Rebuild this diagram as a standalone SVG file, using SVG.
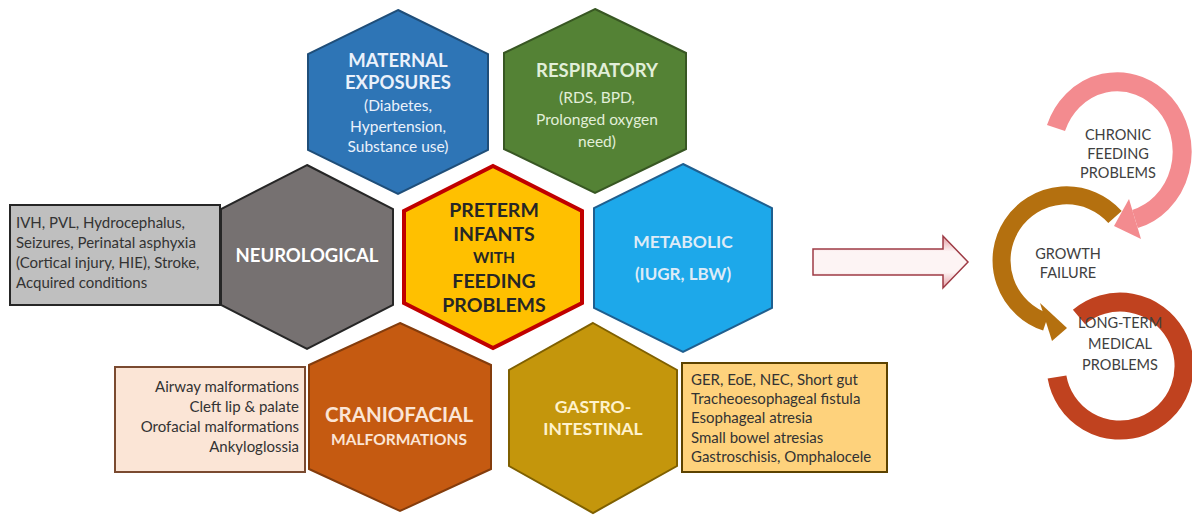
<svg xmlns="http://www.w3.org/2000/svg" width="1192" height="517" viewBox="0 0 1192 517">
<defs>
<style>
.t{font-family:Lato,"Open Sans","Liberation Sans",sans-serif;text-anchor:middle}
.b{font-weight:bold}
.box{font-family:Lato,"Open Sans","Liberation Sans",sans-serif;font-size:15px;fill:#333}
.cyc{font-family:Lato,"Open Sans","Liberation Sans",sans-serif;font-size:14.5px;fill:#404040;text-anchor:middle}
.hex{stroke-width:2;stroke-linejoin:miter}
</style>
<linearGradient id="arrowGrad" x1="0" y1="0" x2="0" y2="1">
<stop offset="0" stop-color="#e39ca2"/>
<stop offset="0.3" stop-color="#fdf4f4"/>
<stop offset="0.7" stop-color="#fdf4f4"/>
<stop offset="1" stop-color="#e39ca2"/>
</linearGradient>
</defs>
<rect width="1192" height="517" fill="#ffffff"/>

<g id="maternal">
<polygon class="hex" points="398,10 488,54 488,150 398,194 308,150 308,54" fill="#2e75b6" stroke="#1f4e79"/>
<text class="t b" x="398" y="67" font-size="18.5" fill="#eaf1fb">MATERNAL</text>
<text class="t b" x="398" y="89" font-size="18.5" fill="#eaf1fb">EXPOSURES</text>
<text class="t" x="398" y="111" font-size="15.5" fill="#eaf1fb">(Diabetes,</text>
<text class="t" x="398" y="132" font-size="15.5" fill="#eaf1fb">Hypertension,</text>
<text class="t" x="398" y="152" font-size="15.5" fill="#eaf1fb">Substance use)</text>
</g>

<g id="respiratory">
<polygon class="hex" points="595,9 686,53 686,149 595,193 504,149 504,53" fill="#548235" stroke="#385723"/>
<text class="t b" x="597" y="77" font-size="18.5" fill="#e2efd9">RESPIRATORY</text>
<text class="t" x="597" y="103" font-size="15.5" fill="#e2efd9">(RDS, BPD,</text>
<text class="t" x="597" y="125" font-size="15.5" fill="#e2efd9">Prolonged oxygen</text>
<text class="t" x="597" y="147" font-size="15.5" fill="#e2efd9">need)</text>
</g>

<g id="neurological">
<rect x="10" y="205" width="210" height="100" fill="#bfbfbf" stroke="#262626" stroke-width="2"/>
<text class="box" x="16" y="228" font-size="15.5">IVH, PVL, Hydrocephalus,</text>
<text class="box" x="16" y="248" font-size="15.5">Seizures, Perinatal asphyxia</text>
<text class="box" x="16" y="268" font-size="15.5">(Cortical injury, HIE), Stroke,</text>
<text class="box" x="16" y="288" font-size="15.5">Acquired conditions</text>
<polygon class="hex" points="307,165 393,209 393,305 307,349 221,305 221,209" fill="#767171" stroke="#262626"/>
<text class="t b" x="307" y="262" font-size="18.5" fill="#ffffff">NEUROLOGICAL</text>
</g>

<g id="center">
<polygon points="493,166 582,211 582,303 493,348 404,303 404,211" fill="#ffc000" stroke="#c00000" stroke-width="4" stroke-linejoin="miter"/>
<text class="t b" x="494" y="217" font-size="19.5" fill="#262626">PRETERM</text>
<text class="t b" x="494" y="241" font-size="19.5" fill="#262626">INFANTS</text>
<text class="t b" x="494" y="263" font-size="15.5" fill="#262626">WITH</text>
<text class="t b" x="494" y="288" font-size="19.5" fill="#262626">FEEDING</text>
<text class="t b" x="494" y="312" font-size="19.5" fill="#262626">PROBLEMS</text>
</g>

<g id="metabolic">
<polygon class="hex" points="683,164 772,208 772,308 683,352 594,308 594,208" fill="#1da8ea" stroke="#1f5f8f"/>
<text class="t b" x="683" y="248" font-size="17.5" fill="#deebf7">METABOLIC</text>
<text class="t b" x="683" y="280" font-size="17" fill="#deebf7">(IUGR, LBW)</text>
</g>

<g id="craniofacial">
<rect x="115" y="367" width="190" height="105" fill="#fbe5d6" stroke="#7a4a30" stroke-width="2"/>
<text class="box" x="299" y="392" text-anchor="end" font-size="16">Airway malformations</text>
<text class="box" x="299" y="412" text-anchor="end" font-size="16">Cleft lip &amp; palate</text>
<text class="box" x="299" y="432" text-anchor="end" font-size="16">Orofacial malformations</text>
<text class="box" x="299" y="452" text-anchor="end" font-size="16">Ankyloglossia</text>
<polygon class="hex" points="400,323 491,365 491,469 400,511 309,469 309,365" fill="#c55a11" stroke="#843c0c"/>
<text class="t b" x="399" y="422" font-size="20.5" fill="#fbe5d6">CRANIOFACIAL</text>
<text class="t b" x="399" y="445" font-size="15.5" fill="#fbe5d6">MALFORMATIONS</text>
</g>

<g id="gastrointestinal">
<polygon class="hex" points="593,323 677,370 677,466 593,513 509,466 509,370" fill="#c4960c" stroke="#7f6000"/>
<text class="t b" x="593" y="413" font-size="17.5" fill="#fff2cc">GASTRO-</text>
<text class="t b" x="593" y="435" font-size="17.5" fill="#fff2cc">INTESTINAL</text>
<rect x="682" y="363" width="205" height="109" fill="#fed27c" stroke="#5c4200" stroke-width="2"/>
<text class="box" x="691" y="385">GER, EoE, NEC, Short gut</text>
<text class="box" x="691" y="404">Tracheoesophageal fistula</text>
<text class="box" x="691" y="423">Esophageal atresia</text>
<text class="box" x="691" y="443">Small bowel atresias</text>
<text class="box" x="691" y="462">Gastroschisis, Omphalocele</text>
</g>

<g id="connectors">
<polygon points="813,249 943,249 943,236 968,262 943,288 943,275 813,275" fill="url(#arrowGrad)" stroke="#9e3b45" stroke-width="1.5"/>
<path d="M 1079 317 A 64 64 0 1 1 1057 377" fill="none" stroke="#c0421f" stroke-width="19"/>
<path d="M 1115 217 A 65 65 0 1 0 1046 322" fill="none" stroke="#b4700f" stroke-width="18"/>
<polygon points="1040,303 1052,341 1067,328" fill="#b4700f"/>
<path d="M 1056 128 A 65 70 0 1 1 1135 219" fill="none" stroke="#f38b8f" stroke-width="19"/>
<polygon points="1129,199 1141,239 1114,226" fill="#f38b8f"/>
</g>

<g id="cycle-labels">
<text class="cyc" x="1118" y="140">CHRONIC</text>
<text class="cyc" x="1118" y="159">FEEDING</text>
<text class="cyc" x="1118" y="178">PROBLEMS</text>
<text class="cyc" x="1068" y="259">GROWTH</text>
<text class="cyc" x="1068" y="278">FAILURE</text>
<text class="cyc" x="1120" y="328">LONG-TERM</text>
<text class="cyc" x="1120" y="349">MEDICAL</text>
<text class="cyc" x="1120" y="370">PROBLEMS</text>
</g>
</svg>
